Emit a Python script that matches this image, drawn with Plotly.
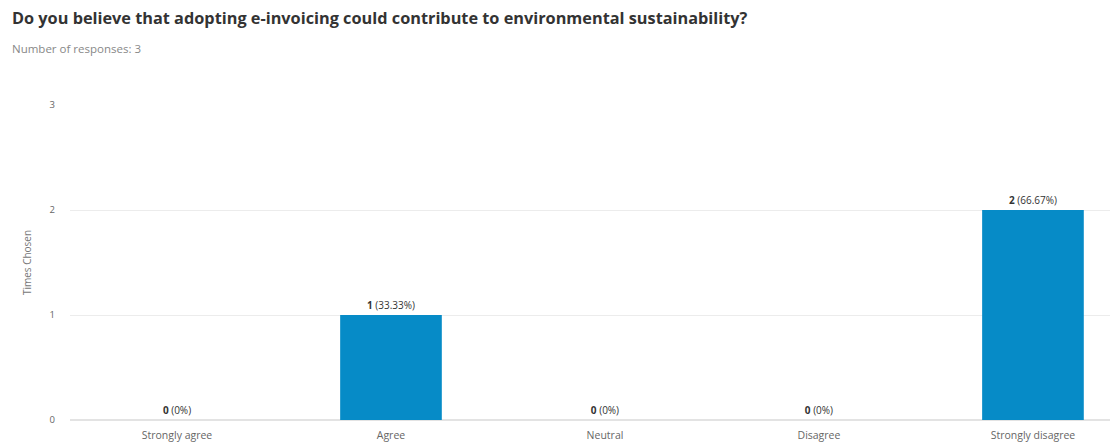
import plotly.graph_objects as go

categories = ["Strongly agree", "Agree", "Neutral", "Disagree", "Strongly disagree"]
counts = [0, 1, 0, 0, 2]
percent_labels = ["0%", "33.33%", "0%", "0%", "66.67%"]
y_ticks = [0, 1, 2, 3]

font_family = "Open Sans, sans-serif"

fig = go.Figure(
    go.Bar(
        x=list(range(len(categories))),
        y=counts,
        customdata=percent_labels,
        width=0.475,
        marker=dict(color="#068bc7", line=dict(width=0)),
        texttemplate="<b>%{y}</b> (%{customdata})",
        textposition="outside",
        cliponaxis=False,
        textfont=dict(family=font_family, size=10, color="#333333"),
        hoverinfo="skip",
    )
)

fig.update_layout(
    width=1110,
    height=443,
    margin=dict(l=70, r=0, t=105, b=23),
    paper_bgcolor="white",
    plot_bgcolor="white",
    showlegend=False,
    font=dict(family=font_family),
    xaxis=dict(
        range=[-0.5, 4.36],
        tickmode="array",
        tickvals=list(range(len(categories))),
        ticktext=categories,
        tickfont=dict(size=10.5, color="#666666"),
        ticklabelstandoff=7,
        showgrid=False,
        zeroline=False,
        showline=False,
        ticks="",
        fixedrange=True,
    ),
    yaxis=dict(
        range=[0, 3],
        tickvals=y_ticks,
        tickfont=dict(size=9.5, color="#666666"),
        showgrid=True,
        gridcolor="#ececec",
        gridwidth=1,
        zeroline=True,
        zerolinecolor="#e3e3e3",
        zerolinewidth=2,
        ticks="",
        ticklabelstandoff=14,
        title=dict(text="Times Chosen", font=dict(size=10, color="#777777"), standoff=16),
        fixedrange=True,
    ),
    annotations=[
        dict(
            text="<b>Do you believe that adopting e-invoicing could contribute to environmental sustainability?</b>",
            xref="paper", yref="paper", x=0, y=1,
            xanchor="left", yanchor="middle",
            xshift=-60, yshift=105 - 18,
            showarrow=False,
            font=dict(size=16.3, color="#333333", family=font_family),
        ),
        dict(
            text="Number of responses: 3",
            xref="paper", yref="paper", x=0, y=1,
            xanchor="left", yanchor="middle",
            xshift=-60, yshift=105 - 48,
            showarrow=False,
            font=dict(size=11.5, color="#888888", family=font_family),
        ),
    ],
)

fig.write_html("out.html")
